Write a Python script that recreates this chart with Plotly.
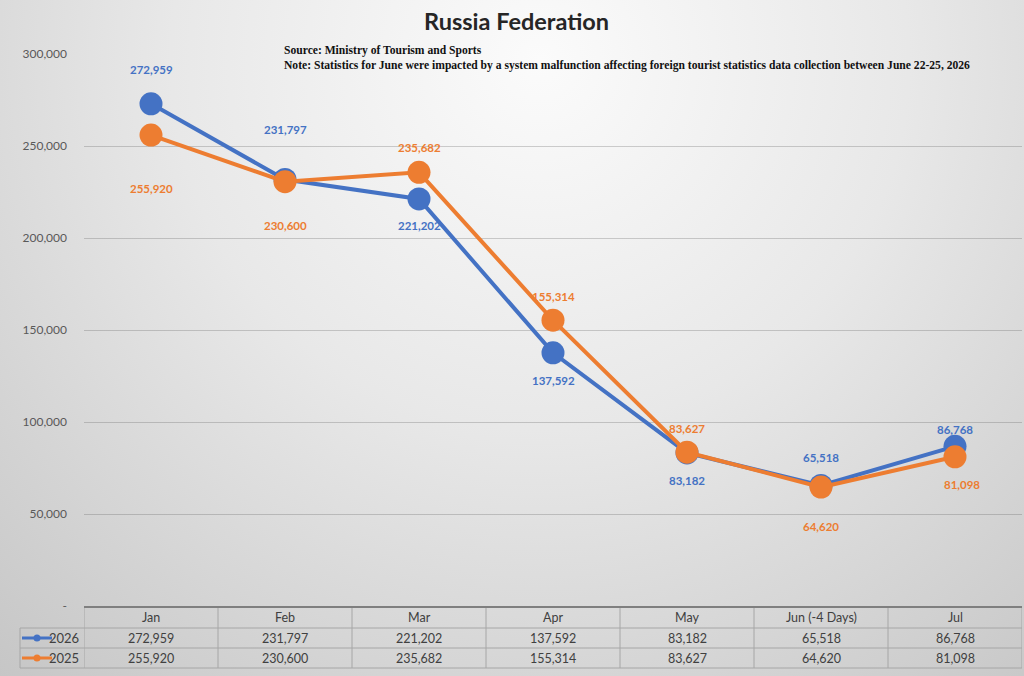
#!/usr/bin/env python
"""
Russia Federation – monthly foreign arrivals, 2026 vs 2025, with data table.
Exports: out.html
"""

import base64
import plotly.graph_objects as go

# ------------------------------------------------------------------
# Data
# ------------------------------------------------------------------
MONTHS = ["Jan", "Feb", "Mar", "Apr", "May", "Jun (-4 Days)", "Jul"]
ARRIVALS_2026 = [272959, 231797, 221202, 137592, 83182, 65518, 86768]
ARRIVALS_2025 = [255920, 230600, 235682, 155314, 83627, 64620, 81098]
SERIES_NAMES = ["2026", "2025"]

Y_TICKS = [0, 50000, 100000, 150000, 200000, 250000, 300000]
Y_TICK_TEXT = ["-", "50,000", "100,000", "150,000", "200,000", "250,000", "300,000"]

TITLE = "Russia Federation"
SOURCE_NOTE = ("Source: Ministry of Tourism and Sports<br>"
               "Note: Statistics for June were impacted by a system malfunction affecting "
               "foreign tourist statistics data collection between June 22-25, 2026")

# ------------------------------------------------------------------
# Style / layout  ← edit here
# ------------------------------------------------------------------
BLUE = "#4472C4"
ORANGE = "#ED7D31"
TEXT_GREY = "#595959"
TABLE_TEXT = "#404040"
W, H = 1024, 676
M_L, M_R, M_T, M_B = 84, 2, 54, 70
PW, PH = W - M_L - M_R, H - M_T - M_B

# label offsets in px (label placement as in the original sheet)
SHIFT_2026 = [34, 50, -27, -28, -28, 28, 17]
SHIFT_2025 = [-53, -44, 25, 24, 24, -39, -28]
XSHIFT_2025 = [0, 0, 0, 0, 0, 0, 7]


def px_y(py):
    """pixel row (from top of page) -> paper y"""
    return (H - M_B - py) / PH


def px_x(px):
    return (px - M_L) / PW


def note(x, y, text, **kw):
    """paper-positioned text, centred on the given pixel position"""
    kw.setdefault("xanchor", "center")
    kw.setdefault("yanchor", "middle")
    fig.add_annotation(x=x, y=y, xref="paper", yref="paper", text=text,
                       showarrow=False, **kw)


# ------------------------------------------------------------------
# Background gradient (svg data uri)
# ------------------------------------------------------------------
svg = (
    f"<svg xmlns='http://www.w3.org/2000/svg' width='{W}' height='{H}' preserveAspectRatio='none'>"
    "<defs><radialGradient id='g' cx='540' cy='60' r='820' gradientUnits='userSpaceOnUse'>"
    "<stop offset='0' stop-color='#fbfbfb'/><stop offset='0.45' stop-color='#e8e8e8'/>"
    "<stop offset='1' stop-color='#c6c6c6'/></radialGradient></defs>"
    f"<rect width='{W}' height='{H}' fill='url(#g)'/></svg>"
)
bg_uri = "data:image/svg+xml;base64," + base64.b64encode(svg.encode()).decode()

# ------------------------------------------------------------------
# Figure
# ------------------------------------------------------------------
fig = go.Figure()
x_idx = list(range(len(MONTHS)))

for name, vals, col in [(SERIES_NAMES[0], ARRIVALS_2026, BLUE),
                        (SERIES_NAMES[1], ARRIVALS_2025, ORANGE)]:
    fig.add_trace(go.Scatter(
        x=x_idx, y=vals, name=name, mode="lines+markers",
        line=dict(color=col, width=4),
        marker=dict(color=col, size=23),
        cliponaxis=False,
    ))

# data labels
for vals, shifts, xs, col in [(ARRIVALS_2026, SHIFT_2026, [0] * 7, BLUE),
                              (ARRIVALS_2025, SHIFT_2025, XSHIFT_2025, ORANGE)]:
    for i, v in enumerate(vals):
        fig.add_annotation(
            x=i, y=v, xref="x", yref="y", text=f"{v:,}", showarrow=False,
            yshift=shifts[i], xshift=xs[i], xanchor="center", yanchor="middle",
            font=dict(family="Lato", size=11.5, color=col, weight="bold"),
        )

# ------------------------------------------------------------------
# Data table below the plot
# ------------------------------------------------------------------
TABLE_LINE = "#a6a6a6"
row_mid = [px_y(617), px_y(638), px_y(658)]

for i, m in enumerate(MONTHS):
    for y, txt in [(row_mid[0], m),
                   (row_mid[1], f"{ARRIVALS_2026[i]:,}"),
                   (row_mid[2], f"{ARRIVALS_2025[i]:,}")]:
        fig.add_annotation(x=i, y=y, xref="x", yref="paper", text=txt,
                           showarrow=False, xanchor="center", yanchor="middle",
                           font=dict(family="Lato", size=12.5, color=TABLE_TEXT))

shapes = []
# vertical cell borders
for k in range(len(MONTHS) + 1):
    shapes.append(dict(type="line", xref="x", yref="paper", x0=k - 0.5, x1=k - 0.5,
                       y0=px_y(606), y1=px_y(668), line=dict(color=TABLE_LINE, width=1)))
# horizontal borders
for py in [628, 648, 668]:
    shapes.append(dict(type="line", xref="paper", yref="paper", x0=px_x(20), x1=1,
                       y0=px_y(py), y1=px_y(py), line=dict(color=TABLE_LINE, width=1)))
shapes.append(dict(type="line", xref="paper", yref="paper", x0=px_x(20), x1=px_x(20),
                   y0=px_y(628), y1=px_y(668), line=dict(color=TABLE_LINE, width=1)))
# axis line / table top
shapes.append(dict(type="line", xref="paper", yref="paper", x0=0, x1=1,
                   y0=px_y(607), y1=px_y(607), line=dict(color="#7f7f7f", width=2)))

# legend keys in the table
for name, col, py in [(SERIES_NAMES[0], BLUE, 638), (SERIES_NAMES[1], ORANGE, 658)]:
    shapes.append(dict(type="line", xref="paper", yref="paper", x0=px_x(22), x1=px_x(52),
                       y0=px_y(py), y1=px_y(py), line=dict(color=col, width=3)))
    shapes.append(dict(type="circle", xref="paper", yref="paper",
                       x0=px_x(33.5), x1=px_x(40.5), y0=px_y(py + 3.5), y1=px_y(py - 3.5),
                       fillcolor=col, line=dict(color=col, width=0)))
    note(px_x(81), px_y(py), name, xanchor="right",
         font=dict(family="Lato", size=13, color=TABLE_TEXT))

# ------------------------------------------------------------------
# Title and notes
# ------------------------------------------------------------------
note(px_x(516), px_y(21), TITLE,
     font=dict(family="Lato", size=23.5, color="#262626", weight="bold"))
note(px_x(282), px_y(42), SOURCE_NOTE, xanchor="left", yanchor="top", align="left",
     font=dict(family="Liberation Serif", size=11.6, color="#111111", weight="bold"))

fig.update_layout(
    width=W, height=H,
    margin=dict(l=M_L, r=M_R, t=M_T, b=M_B),
    paper_bgcolor="rgba(0,0,0,0)",
    plot_bgcolor="rgba(0,0,0,0)",
    showlegend=False,
    shapes=shapes,
    images=[dict(source=bg_uri, xref="paper", yref="paper",
                 x=px_x(0), y=px_y(0), sizex=W / PW, sizey=H / PH,
                 xanchor="left", yanchor="top", sizing="stretch", layer="below")],
    font=dict(family="Lato"),
)

fig.update_xaxes(range=[-0.5, len(MONTHS) - 0.5], showticklabels=False, showgrid=False,
                 zeroline=False, showline=False, fixedrange=True)
fig.update_yaxes(range=[0, 300000], tickvals=Y_TICKS, ticktext=Y_TICK_TEXT,
                 showgrid=True, gridcolor="rgba(90,90,90,0.28)", gridwidth=1,
                 zeroline=False, showline=False, ticklabelstandoff=16,
                 tickfont=dict(family="Lato", size=12, color=TEXT_GREY), fixedrange=True)

fig.write_html("out.html", config={"displayModeBar": False},
               post_script="document.body.style.margin='0';")
